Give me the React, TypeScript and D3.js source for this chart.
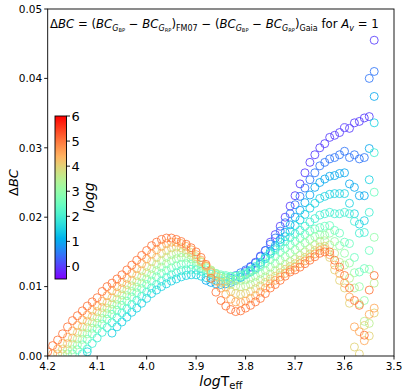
import React from 'react'
import * as d3 from 'd3'

// x ticks (logTeff, axis runs hot -> cool), y ticks (ΔBC in mag), colorbar ticks (logg)
const xTicks = [4.2, 4.1, 4.0, 3.9, 3.8, 3.7, 3.6, 3.5]
const yTicks = [0, 0.01, 0.02, 0.03, 0.04, 0.05]
const cbTicks = [0, 1, 2, 3, 4, 5, 6]

// [logTeff, ΔBC in mmag] per logg
const logg00: [number, number][] = [[3.80,12.2],[3.79,12.8],[3.78,13.5],[3.77,14.4],[3.76,15.2],[3.75,16.4],[3.74,17.5],[3.73,18.7],[3.72,20.0],[3.71,21.6],[3.70,23.1],[3.69,24.8],[3.68,26.4],[3.67,27.9],[3.66,29.0],[3.65,30.0],[3.64,30.6],[3.63,31.5],[3.62,31.8],[3.61,32.2],[3.60,32.9],[3.59,32.8],[3.58,33.6],[3.57,33.8],[3.56,34.3],[3.55,34.5],[3.54,45.5]]
const logg05: [number, number][] = [[3.83,11.2],[3.82,11.6],[3.81,12.0],[3.80,12.4],[3.79,12.9],[3.78,13.4],[3.77,14.3],[3.76,15.2],[3.75,16.1],[3.74,17.0],[3.73,18.0],[3.72,19.2],[3.71,20.5],[3.70,21.8],[3.69,23.0],[3.68,24.2],[3.67,25.4],[3.66,26.4],[3.65,27.4],[3.64,27.9],[3.63,28.4],[3.62,28.6],[3.61,29.0],[3.60,29.5],[3.59,28.6],[3.58,29.0],[3.57,28.4],[3.56,28.6],[3.55,40.0],[3.54,41.0]]
const logg10: [number, number][] = [[3.88,10.9],[3.87,10.6],[3.86,10.4],[3.85,10.3],[3.84,10.4],[3.83,10.6],[3.82,10.9],[3.81,11.3],[3.80,11.8],[3.79,12.2],[3.78,12.7],[3.77,13.5],[3.76,14.3],[3.75,15.1],[3.74,15.9],[3.73,16.8],[3.72,17.8],[3.71,18.9],[3.70,20.0],[3.69,21.0],[3.68,22.1],[3.67,23.2],[3.66,24.3],[3.65,25.0],[3.64,25.5],[3.63,25.9],[3.62,26.0],[3.61,26.3],[3.60,26.4],[3.59,24.8],[3.58,24.3],[3.57,23.1],[3.56,23.1],[3.55,29.9],[3.54,37.4]]
const logg15: [number, number][] = [[4.12,0.6],[4.07,3.3],[4.06,4.2],[4.05,4.9],[4.04,5.6],[4.03,6.3],[4.02,6.9],[4.01,7.6],[4.00,8.3],[3.99,9.0],[3.98,9.5],[3.97,10.0],[3.96,10.4],[3.95,10.8],[3.94,11.1],[3.93,11.4],[3.92,11.6],[3.91,11.7],[3.90,11.7],[3.89,11.5],[3.88,11.3],[3.87,11.1],[3.86,10.9],[3.85,10.8],[3.84,10.8],[3.83,10.9],[3.82,11.1],[3.81,11.4],[3.80,11.7],[3.79,12.1],[3.78,12.5],[3.77,13.2],[3.76,14.0],[3.75,14.8],[3.74,15.6],[3.73,16.4],[3.72,17.2],[3.71,18.0],[3.70,18.8],[3.69,19.6],[3.68,20.4],[3.67,21.3],[3.66,22.0],[3.65,22.7],[3.64,23.0],[3.63,23.3],[3.62,23.4],[3.61,23.4],[3.60,23.4],[3.59,22.0],[3.58,20.5],[3.57,19.0],[3.56,19.5],[3.55,25.4],[3.54,33.6]]
const logg20: [number, number][] = [[4.13,0.3],[4.12,1.0],[4.11,1.8],[4.10,2.6],[4.09,3.4],[4.08,4.1],[4.07,4.8],[4.06,5.5],[4.05,6.2],[4.04,6.8],[4.03,7.4],[4.02,8.0],[4.01,8.6],[4.00,9.2],[3.99,9.8],[3.98,10.3],[3.97,10.8],[3.96,11.3],[3.95,11.7],[3.94,12.0],[3.93,12.3],[3.92,12.4],[3.91,12.5],[3.90,12.4],[3.89,12.2],[3.88,12.0],[3.87,11.8],[3.86,11.6],[3.85,11.5],[3.84,11.4],[3.83,11.4],[3.82,11.5],[3.81,11.7],[3.80,12.0],[3.79,12.4],[3.78,12.9],[3.77,13.5],[3.76,14.1],[3.75,14.7],[3.74,15.3],[3.73,15.9],[3.72,16.5],[3.71,17.1],[3.70,17.6],[3.69,18.1],[3.68,18.7],[3.67,19.3],[3.66,19.8],[3.65,20.3],[3.64,20.5],[3.63,20.7],[3.62,20.5],[3.61,20.5],[3.60,20.7],[3.59,20.5],[3.58,19.4],[3.57,17.7],[3.56,17.8],[3.55,20.7],[3.54,29.3]]
const logg25: [number, number][] = [[4.15,0.3],[4.14,0.9],[4.13,1.6],[4.12,2.4],[4.11,3.2],[4.10,3.9],[4.09,4.6],[4.08,5.3],[4.07,6.0],[4.06,6.6],[4.05,7.3],[4.04,7.9],[4.03,8.5],[4.02,9.1],[4.01,9.7],[4.00,10.3],[3.99,10.8],[3.98,11.4],[3.97,11.9],[3.96,12.3],[3.95,12.7],[3.94,13.0],[3.93,13.2],[3.92,13.3],[3.91,13.2],[3.90,13.0],[3.89,12.7],[3.88,12.4],[3.87,12.1],[3.86,11.9],[3.85,11.7],[3.84,11.6],[3.83,11.5],[3.82,11.5],[3.81,11.6],[3.80,11.8],[3.79,12.1],[3.78,12.5],[3.77,12.9],[3.76,13.4],[3.75,13.9],[3.74,14.4],[3.73,15.0],[3.72,15.5],[3.71,16.0],[3.70,16.5],[3.69,17.0],[3.68,17.5],[3.67,18.0],[3.66,18.3],[3.65,18.5],[3.64,18.7],[3.63,18.8],[3.62,18.1],[3.61,17.7],[3.60,16.4],[3.59,16.2],[3.58,14.2],[3.57,12.1],[3.56,12.6],[3.55,15.2],[3.54,23.6]]
const logg30: [number, number][] = [[4.16,0.3],[4.15,0.9],[4.14,1.6],[4.13,2.4],[4.12,3.2],[4.11,4.0],[4.10,4.7],[4.09,5.4],[4.08,6.1],[4.07,6.7],[4.06,7.4],[4.05,8.0],[4.04,8.7],[4.03,9.3],[4.02,9.9],[4.01,10.5],[4.00,11.1],[3.99,11.7],[3.98,12.3],[3.97,12.8],[3.96,13.3],[3.95,13.7],[3.94,14.0],[3.93,14.2],[3.92,14.2],[3.91,14.0],[3.90,13.6],[3.89,13.1],[3.88,12.7],[3.87,12.3],[3.86,11.9],[3.85,11.5],[3.84,11.2],[3.83,11.0],[3.82,10.9],[3.81,10.9],[3.80,11.0],[3.79,11.2],[3.78,11.5],[3.77,11.9],[3.76,12.3],[3.75,12.8],[3.74,13.3],[3.73,13.8],[3.72,14.3],[3.71,14.8],[3.70,15.3],[3.69,15.8],[3.68,16.3],[3.67,16.8],[3.66,17.2],[3.65,17.5],[3.64,17.4],[3.63,17.7],[3.62,16.5],[3.61,15.9],[3.60,14.8],[3.59,13.4],[3.58,12.0],[3.57,10.0],[3.56,8.0],[3.55,12.5],[3.54,17.1]]
const logg35: [number, number][] = [[4.17,0.3],[4.16,0.9],[4.15,1.7],[4.14,2.5],[4.13,3.3],[4.12,4.1],[4.11,4.8],[4.10,5.5],[4.09,6.2],[4.08,6.9],[4.07,7.5],[4.06,8.2],[4.05,8.8],[4.04,9.5],[4.03,10.1],[4.02,10.7],[4.01,11.4],[4.00,12.0],[3.99,12.6],[3.98,13.2],[3.97,13.7],[3.96,14.2],[3.95,14.6],[3.94,14.8],[3.93,14.9],[3.92,14.8],[3.91,14.5],[3.90,14.0],[3.89,13.5],[3.88,12.9],[3.87,12.4],[3.86,11.8],[3.85,11.2],[3.84,10.7],[3.83,10.3],[3.82,10.1],[3.81,10.0],[3.80,10.1],[3.79,10.3],[3.78,10.6],[3.77,11.0],[3.76,11.4],[3.75,11.8],[3.74,12.3],[3.73,12.7],[3.72,13.2],[3.71,13.6],[3.70,14.0],[3.69,14.5],[3.68,15.0],[3.67,15.5],[3.66,16.0],[3.65,16.5],[3.64,16.6],[3.63,16.0],[3.62,14.8],[3.61,13.5],[3.60,13.1],[3.59,11.2],[3.58,9.8],[3.57,7.5],[3.56,5.0],[3.55,4.7],[3.54,10.5]]
const logg40: [number, number][] = [[4.18,0.3],[4.17,1.0],[4.16,1.8],[4.15,2.6],[4.14,3.4],[4.13,4.2],[4.12,5.0],[4.11,5.7],[4.10,6.4],[4.09,7.0],[4.08,7.7],[4.07,8.4],[4.06,9.1],[4.05,9.7],[4.04,10.3],[4.03,10.9],[4.02,11.6],[4.01,12.3],[4.00,12.9],[3.99,13.6],[3.98,14.2],[3.97,14.8],[3.96,15.2],[3.95,15.6],[3.94,15.7],[3.93,15.6],[3.92,15.3],[3.91,14.9],[3.90,14.3],[3.89,13.6],[3.88,12.9],[3.87,12.2],[3.86,11.4],[3.85,10.6],[3.84,9.9],[3.83,9.3],[3.82,9.0],[3.81,8.9],[3.80,9.0],[3.79,9.3],[3.78,9.7],[3.77,10.1],[3.76,10.6],[3.75,11.1],[3.74,11.5],[3.73,12.0],[3.72,12.5],[3.71,12.9],[3.70,13.3],[3.69,13.8],[3.68,14.2],[3.67,14.7],[3.66,15.2],[3.65,15.7],[3.64,15.8],[3.63,14.2],[3.62,12.4],[3.61,10.9],[3.60,9.8],[3.59,7.6],[3.58,1.3],[3.57,0.3],[3.56,4.4],[3.55,2.9],[3.54,6.2]]
const logg45: [number, number][] = [[4.19,0.3],[4.18,1.0],[4.17,1.8],[4.16,2.7],[4.15,3.6],[4.14,4.4],[4.13,5.2],[4.12,5.9],[4.11,6.6],[4.10,7.2],[4.09,7.9],[4.08,8.7],[4.07,9.4],[4.06,10.0],[4.05,10.6],[4.04,11.2],[4.03,11.9],[4.02,12.6],[4.01,13.3],[4.00,14.0],[3.99,14.7],[3.98,15.3],[3.97,15.8],[3.96,16.2],[3.95,16.4],[3.94,16.4],[3.93,16.2],[3.92,15.8],[3.91,15.3],[3.90,14.6],[3.89,13.8],[3.88,13.0],[3.87,12.0],[3.86,10.8],[3.85,9.8],[3.84,8.9],[3.83,8.2],[3.82,7.8],[3.81,7.7],[3.80,7.9],[3.79,8.3],[3.78,8.7],[3.77,9.2],[3.76,9.8],[3.75,10.4],[3.74,10.9],[3.73,11.4],[3.72,11.9],[3.71,12.4],[3.70,12.8],[3.69,13.3],[3.68,13.7],[3.67,14.2],[3.66,14.7],[3.65,15.2],[3.64,15.4],[3.63,14.6],[3.62,13.1],[3.61,11.9],[3.60,10.5],[3.59,8.5],[3.58,4.2],[3.57,3.5],[3.56,2.2],[3.55,6.0],[3.54,6.9]]
const logg50: [number, number][] = [[4.20,0.6],[4.19,1.5],[4.18,2.3],[4.17,3.2],[4.16,4.2],[4.15,5.1],[4.14,5.8],[4.13,6.5],[4.12,7.2],[4.11,7.8],[4.10,8.4],[4.09,9.3],[4.08,10.0],[4.07,10.5],[4.06,11.1],[4.05,11.7],[4.04,12.4],[4.03,13.1],[4.02,13.8],[4.01,14.5],[4.00,15.2],[3.99,15.9],[3.98,16.4],[3.97,16.8],[3.96,17.0],[3.95,17.0],[3.94,16.8],[3.93,16.5],[3.92,16.1],[3.91,15.6],[3.90,15.0],[3.89,14.2],[3.88,13.2],[3.87,11.2],[3.86,9.2],[3.85,8.0],[3.84,7.2],[3.83,6.7],[3.82,6.4],[3.81,6.5],[3.80,6.9],[3.79,7.3],[3.78,7.8],[3.77,8.3],[3.76,9.0],[3.75,9.8],[3.74,10.3],[3.73,10.9],[3.72,11.5],[3.71,12.1],[3.70,12.4],[3.69,12.8],[3.68,13.3],[3.67,13.8],[3.66,14.3],[3.65,14.8],[3.64,15.0],[3.63,15.0],[3.62,13.8],[3.61,12.8],[3.60,11.6],[3.59,9.8],[3.58,8.0],[3.57,7.3],[3.56,3.0],[3.55,9.5],[3.54,11.6]]

const series = [
  { logg: 0, pts: logg00 },
  { logg: 0.5, pts: logg05 },
  { logg: 1, pts: logg10 },
  { logg: 1.5, pts: logg15 },
  { logg: 2, pts: logg20 },
  { logg: 2.5, pts: logg25 },
  { logg: 3, pts: logg30 },
  { logg: 3.5, pts: logg35 },
  { logg: 4, pts: logg40 },
  { logg: 4.5, pts: logg45 },
  { logg: 5, pts: logg50 },
]

const W = 407
const H = 392
const plot = { left: 47.7, right: 394, top: 9, bottom: 356 }

// matplotlib 'rainbow' colormap
const rainbow = (t: number) => {
  const c = (v: number) => Math.round(Math.max(0, Math.min(1, v)) * 255)
  return d3.rgb(c(Math.abs(2 * t - 0.5)), c(Math.sin(Math.PI * t)), c(Math.cos((Math.PI * t) / 2))).toString()
}
const cNorm = d3.scaleLinear().domain([-0.5, 6]).range([0, 1])

const font = 'DejaVu Sans, sans-serif'

const App = () => {
  const x = d3.scaleLinear().domain([4.2, 3.5]).range([plot.left, plot.right])
  const y = d3.scaleLinear().domain([0, 0.05]).range([plot.bottom, plot.top])
  const cb = d3.scaleLinear().domain([-0.5, 6]).range([279, 116])
  const cbX = 55
  const cbW = 11.5

  const stops = d3.range(0, 1.0001, 0.05)

  return (
    <svg width={W} height={H} style={{ position: 'absolute', left: 0, top: 0, background: '#fff' }} fontFamily={font}>
      <defs>
        <clipPath id="plotClip">
          <rect x={plot.left} y={plot.top} width={plot.right - plot.left} height={plot.bottom - plot.top} />
        </clipPath>
        <linearGradient id="cbGrad" x1="0" y1="1" x2="0" y2="0">
          {stops.map((s) => (
            <stop key={s} offset={s} stopColor={rainbow(s)} />
          ))}
        </linearGradient>
      </defs>

      {/* points */}
      <g clipPath="url(#plotClip)">
        {series.map((s) =>
          s.pts.map(([t, v], i) => (
            <circle
              key={s.logg + '-' + i}
              cx={x(t)}
              cy={y(v / 1000)}
              r={4}
              fill="none"
              stroke={rainbow(cNorm(s.logg))}
              strokeOpacity={0.85}
              strokeWidth={1}
            />
          ))
        )}
      </g>

      {/* frame */}
      <rect x={plot.left} y={plot.top} width={plot.right - plot.left} height={plot.bottom - plot.top} fill="none" stroke="#000" strokeWidth={0.9} />

      {/* y axis */}
      {yTicks.map((t) => (
        <g key={'y' + t}>
          <line x1={plot.left - 3.5} x2={plot.left} y1={y(t)} y2={y(t)} stroke="#000" strokeWidth={0.9} />
          <text x={plot.left - 5.5} y={y(t)} dy="0.36em" textAnchor="end" fontSize={10.5}>
            {d3.format('.2f')(t)}
          </text>
        </g>
      ))}

      {/* x axis */}
      {xTicks.map((t) => (
        <g key={'x' + t}>
          <line x1={x(t)} x2={x(t)} y1={plot.bottom} y2={plot.bottom + 3.5} stroke="#000" strokeWidth={0.9} />
          <text x={x(t)} y={plot.bottom + 14} textAnchor="middle" fontSize={10.5}>
            {d3.format('.1f')(t)}
          </text>
        </g>
      ))}

      {/* axis labels */}
      <text x={(plot.left + plot.right) / 2} y={386} textAnchor="middle" fontSize={14}>
        <tspan fontStyle="italic">log</tspan>
        <tspan>T</tspan>
        <tspan fontSize={10} dy={3}>eff</tspan>
      </text>
      <text transform={`translate(18,${(plot.top + plot.bottom) / 2}) rotate(-90)`} textAnchor="middle" fontSize={13}>
        <tspan>Δ</tspan>
        <tspan fontStyle="italic">BC</tspan>
      </text>

      {/* title */}
      <text x={50} y={28} fontSize={11.7}>
        <tspan>Δ</tspan>
        <tspan fontStyle="italic">BC</tspan>
        <tspan> = (</tspan>
        <tspan fontStyle="italic">BC</tspan>
        <tspan fontStyle="italic" fontSize={8} dy={2.5}>G</tspan>
        <tspan fontSize={5.2} dy={1.5}>BP</tspan>
        <tspan dy={-4}> − </tspan>
        <tspan fontStyle="italic">BC</tspan>
        <tspan fontStyle="italic" fontSize={8} dy={2.5}>G</tspan>
        <tspan fontSize={5.2} dy={1.5}>RP</tspan>
        <tspan dy={-4}>)</tspan>
        <tspan fontSize={8} dy={2.5}>FM07</tspan>
        <tspan dy={-2.5}> − (</tspan>
        <tspan fontStyle="italic">BC</tspan>
        <tspan fontStyle="italic" fontSize={8} dy={2.5}>G</tspan>
        <tspan fontSize={5.2} dy={1.5}>BP</tspan>
        <tspan dy={-4}> − </tspan>
        <tspan fontStyle="italic">BC</tspan>
        <tspan fontStyle="italic" fontSize={8} dy={2.5}>G</tspan>
        <tspan fontSize={5.2} dy={1.5}>RP</tspan>
        <tspan dy={-4}>)</tspan>
        <tspan fontSize={8} dy={2.5}>Gaia</tspan>
        <tspan dy={-2.5}> for </tspan>
        <tspan fontStyle="italic">A</tspan>
        <tspan fontStyle="italic" fontSize={8} dy={2.5}>v</tspan>
        <tspan dy={-2.5}> = 1</tspan>
      </text>

      {/* colorbar */}
      <rect x={cbX} y={cb(6)} width={cbW} height={cb(-0.5) - cb(6)} fill="url(#cbGrad)" stroke="#000" strokeWidth={0.9} />
      {cbTicks.map((t) => (
        <g key={'c' + t}>
          <line x1={cbX + cbW} x2={cbX + cbW + 3.5} y1={cb(t)} y2={cb(t)} stroke="#000" strokeWidth={0.9} />
          <text x={cbX + cbW + 5} y={cb(t)} dy="0.36em" fontSize={13}>
            {t}
          </text>
        </g>
      ))}
      <text transform={`translate(94,${(cb(6) + cb(-0.5)) / 2}) rotate(-90)`} textAnchor="middle" fontSize={14} fontStyle="italic">
        logg
      </text>
    </svg>
  )
}

export default App
